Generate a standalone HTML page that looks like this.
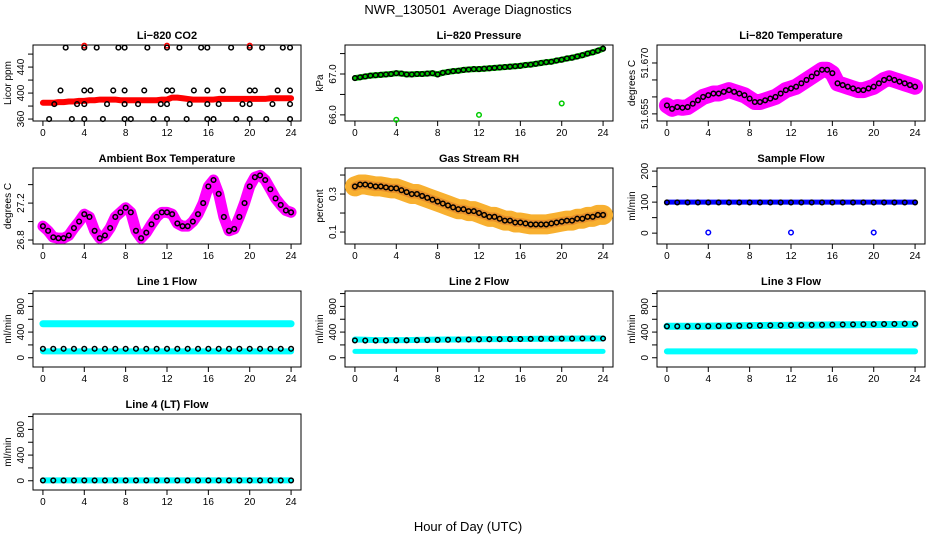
<!DOCTYPE html>
<html><head><meta charset="utf-8"><style>
body{margin:0;background:#fff}
svg{display:block;font-family:"Liberation Sans",sans-serif}
</style></head><body>
<svg id="c" width="936" height="540" viewBox="0 0 936 540">
<text x="468" y="14" text-anchor="middle" font-size="13">NWR_130501&#160; Average Diagnostics</text>
<text x="468" y="531" text-anchor="middle" font-size="13">Hour of Day (UTC)</text>
</svg>
<script>
const hours=[0,0.5,1,1.5,2,2.5,3,3.5,4,4.5,5,5.5,6,6.5,7,7.5,8,8.5,9,9.5,10,10.5,11,11.5,12,12.5,13,13.5,14,14.5,15,15.5,16,16.5,17,17.5,18,18.5,19,19.5,20,20.5,21,21.5,22,22.5,23,23.5,24];
const hourly=[0,1,2,3,4,5,6,7,8,9,10,11,12,13,14,15,16,17,18,19,20,21,22,23,24];
const xTicks=[0,4,8,12,16,20,24];
const co2Line=[385,385,385,386,386,387,387,388,388,389,389,390,390,390,390,389,389,389,389,389,389,389,389,390,390,393,393,392,391,390,390,390,390,390,391,391,391,391,391,391,391,391,391,391,392,392,392,392,392];
const co2OutT=[2.2,4,5.2,7.3,7.9,10.1,12,13.2,15.3,15.9,18.2,20,21.2,23.2,23.9,1.7,4,4.6,6.8,7.9,9.8,12,12.5,14.6,15.9,17.4,20,20.5,22.7,23.9,1.1,3.3,4,6.2,7.9,9.2,11.4,12,14.2,15.9,17,19.3,20,22.2,23.9,0.6,2.8,4,5.8,7.9,8.5,10.7,12,13.9,15.9,16.5,18.7,20,21.6,23.9];
const co2OutV=[470,470,470,470,470,470,470,470,470,470,470,470,470,470,470,404,404,404,404,404,404,404,404,404,404,404,404,404,404,404,383,383,383,383,383,383,383,383,383,383,383,383,383,383,383,360,360,360,360,360,360,360,360,360,360,360,360,360,360,360];
const co2RedT=[4,12,20];
const co2RedV=[473,473,473];
const pressure=[66.9,66.92,66.94,66.96,66.97,66.98,66.99,67.0,67.02,67.01,66.99,66.99,67.0,67.0,67.01,67.02,66.99,67.03,67.05,67.07,67.08,67.1,67.11,67.12,67.12,67.13,67.14,67.15,67.16,67.17,67.18,67.19,67.2,67.22,67.23,67.25,67.27,67.29,67.3,67.33,67.35,67.38,67.4,67.43,67.46,67.5,67.53,67.57,67.62];
const presOutT=[4,12,20];
const presOutV=[65.88,66.0,66.28];
const liTemp=[51.6575,51.6565,51.657,51.6568,51.657,51.658,51.659,51.660,51.6605,51.661,51.661,51.6615,51.662,51.6615,51.661,51.6605,51.6595,51.6585,51.6585,51.659,51.6595,51.660,51.661,51.662,51.6625,51.663,51.664,51.665,51.666,51.667,51.668,51.668,51.667,51.664,51.6635,51.663,51.6625,51.662,51.662,51.6625,51.663,51.664,51.665,51.6655,51.665,51.6645,51.664,51.6635,51.663];
const ambient=[26.95,26.9,26.83,26.82,26.82,26.85,26.93,27.0,27.08,27.05,26.9,26.82,26.85,26.93,27.05,27.1,27.15,27.1,26.9,26.82,26.88,26.97,27.05,27.1,27.1,27.08,26.98,26.95,26.95,27.0,27.08,27.2,27.38,27.45,27.3,27.05,26.9,26.92,27.05,27.2,27.38,27.48,27.5,27.45,27.35,27.25,27.18,27.12,27.1];
const rh=[0.34,0.35,0.35,0.345,0.34,0.34,0.335,0.33,0.33,0.32,0.31,0.3,0.3,0.29,0.28,0.27,0.26,0.25,0.24,0.23,0.22,0.22,0.21,0.21,0.2,0.19,0.18,0.18,0.17,0.16,0.16,0.15,0.15,0.145,0.14,0.14,0.14,0.14,0.145,0.15,0.155,0.16,0.16,0.17,0.17,0.18,0.18,0.19,0.19];
const sampleBlue=[100,100,100,100,100,100,100,100,100,100,100,100,100,100,100,100,100,100,100,100,100,100,100,100,100];
const sampleBlack=[99,99,99,99,99,99,99,99,99,99,99,99,99,99,99,99,99,99,99,99,99,99,99,99,99];
const sampleOutT=[4,12,20];
const sampleOutV=[2,2,2];
const line1Hi=[530,530,530,530,530,530,530,530,530,530,530,530,530,530,530,530,530,530,530,530,530,530,530,530,530];
const line1Lo=[100,100,100,100,100,100,100,100,100,100,100,100,100,100,100,100,100,100,100,100,100,100,100,100,100];
const line1Black=[140,140,140,140,140,140,140,140,140,140,140,140,140,140,140,140,140,140,140,140,140,140,140,140,140];
const line2Hi=[285,280,275,275,275,275,278,280,282,284,285,287,288,290,290,292,293,295,296,297,298,299,300,300,300];
const line2Lo=[100,100,100,100,100,100,100,100,100,100,100,100,100,100,100,100,100,100,100,100,100,100,100,100,100];
const line2Black=[270,268,268,268,270,272,274,276,278,280,282,284,286,288,290,290,292,294,295,296,298,299,300,300,300];
const line3Hi=[490,490,490,490,492,494,496,498,500,502,504,505,506,508,509,510,512,514,515,516,517,518,519,520,520];
const line3Lo=[100,100,100,100,100,100,100,100,100,100,100,100,100,100,100,100,100,100,100,100,100,100,100,100,100];
const line3Black=[490,490,490,490,492,494,496,498,500,502,504,506,508,510,512,514,516,518,520,522,524,526,528,530,530];
const line4Cyan=[5,5,5,5,5,5,5,5,5,5,5,5,5,5,5,5,5,5,5,5,5,5,5,5,5];
const line4Black=[5,5,5,5,5,5,5,5,5,5,5,5,5,5,5,5,5,5,5,5,5,5,5,5,5];

const NS='http://www.w3.org/2000/svg';
const svg=document.getElementById('c');
function mk(tag,attrs,parent){const e=document.createElementNS(NS,tag);for(const k in attrs)e.setAttribute(k,attrs[k]);(parent||svg).appendChild(e);return e;}
const colL=[33,345,657], rowT=[45,168,291,414], W=268, H=76;

function panel(name,col,row,ymin,ymax,yTicks,yLabels,ytitle,title){
  const g=mk('g',{});
  
  
  const L=colL[col],T=rowT[row];
  const sx=v=>L+(v+0.96)/25.92*W;
  const sy=v=>T+H-(v-ymin)/(ymax-ymin)*H;
  const t=mk('text',{x:L+W/2,y:T-6,'text-anchor':'middle','font-size':11,'font-weight':'bold'},g);
  t.textContent=title;
  
  
  const box=mk('rect',{x:L,y:T,width:W,height:H,fill:'none',stroke:'#000','stroke-width':1},g);
  
  
  xTicks.forEach(v=>{
    mk('line',{x1:sx(v),x2:sx(v),y1:T+H,y2:T+H+5,stroke:'#000'},g);
    const tx=mk('text',{x:sx(v),y:T+H+15,'text-anchor':'middle','font-size':10},g);
    tx.textContent=v;
    
    
  });
  yTicks.forEach(v=>{mk('line',{x1:L-5,x2:L,y1:sy(v),y2:sy(v),stroke:'#000'},g);});
  yLabels.forEach(v=>{
    const tx=mk('text',{x:0,y:0,'text-anchor':'middle','font-size':10,transform:`translate(${L-9},${sy(v)}) rotate(-90)`},g);
    tx.textContent=v;
    
    
  });
  const yt=mk('text',{x:0,y:0,'text-anchor':'middle','font-size':10,transform:`translate(${L-22},${T+H/2}) rotate(-90)`},g);
  yt.textContent=ytitle;
  
  
  const cg=mk('g',{},g);
  return {sx,sy,g:cg};
}
function band(p,xs,ys,color,w,nm){
  const pts=xs.map((x,i)=>p.sx(x)+','+p.sy(ys[i])).join(' ');
  const e=mk('polyline',{points:pts,fill:'none',stroke:color,'stroke-width':w,'stroke-linejoin':'round','stroke-linecap':'round'},p.g);
  
  
}
function pts(p,xs,ys,color,nm,r){
  xs.forEach((x,i)=>{
    const e=mk('circle',{cx:p.sx(x),cy:p.sy(ys[i]),r:r||2.3,fill:'none',stroke:color,'stroke-width':1.5},p.g);
    
    
  });
}

let p;
p=panel('co2',0,0,357,474,[360,380,400,420,440,460],[360,400,440],'Licor ppm','Li\u2212820 CO2');
band(p,hours,co2Line,'#f00',6,'co2-line');
pts(p,co2RedT,co2RedV,'#f00','co2-red-point');
pts(p,co2OutT,co2OutV,'#000','co2-point');

p=panel('pressure',1,0,65.85,67.71,[66.0,66.5,67.0,67.5],['66.0','67.0'],'kPa','Li\u2212820 Pressure');
band(p,hours,pressure,'#0c0',6,'pressure-line');
pts(p,hours,pressure,'#000','pressure-point');
pts(p,presOutT,presOutV,'#0c0','pressure-outlier');

p=panel('li-temp',2,0,51.6529,51.6753,[51.655,51.66,51.665,51.67],['51.655','51.670'],'degrees C','Li\u2212820 Temperature');
band(p,hours,liTemp,'#f0f',16,'li-temp-band');
pts(p,hours,liTemp,'#000','li-temp-point');

p=panel('ambient',0,1,26.757,27.58,[26.8,27.0,27.2,27.4],['26.8','27.2'],'degrees C','Ambient Box Temperature');
band(p,hours,ambient,'#f0f',11,'ambient-band');
pts(p,hours,ambient,'#000','ambient-point');

p=panel('rh',1,1,0.037,0.437,[0.1,0.2,0.3,0.4],['0.1','0.3'],'percent','Gas Stream RH');
band(p,hours,rh,'#f8b030',20,'rh-band');
band(p,hours,rh,'#e8902a',9,'rh-band-core');
pts(p,hours,rh,'#000','rh-point');

p=panel('sample-flow',2,1,-35,210,[0,50,100,150,200],[0,100,200],'ml/min','Sample Flow');
band(p,hourly,sampleBlue,'#00f',5,'sample-flow-line');
pts(p,hourly,sampleBlack,'#000','sample-flow-point');
pts(p,sampleOutT,sampleOutV,'#00f','sample-flow-outlier');

const fT=[0,200,400,600,800,1000], fL=[0,400,800];
p=panel('line1-flow',0,2,-144,1040,fT,fL,'ml/min','Line 1 Flow');
band(p,hourly,line1Hi,'#0ff',7,'line1-high-band');
band(p,hourly,line1Lo,'#0ff',6,'line1-low-band');
pts(p,hourly,line1Black,'#000','line1-point');

p=panel('line2-flow',1,2,-144,1040,fT,fL,'ml/min','Line 2 Flow');
band(p,hourly,line2Hi,'#0ff',6,'line2-high-band');
band(p,hourly,line2Lo,'#0ff',5,'line2-low-band');
pts(p,hourly,line2Black,'#000','line2-point');

p=panel('line3-flow',2,2,-144,1040,fT,fL,'ml/min','Line 3 Flow');
band(p,hourly,line3Hi,'#0ff',7,'line3-high-band');
band(p,hourly,line3Lo,'#0ff',6,'line3-low-band');
pts(p,hourly,line3Black,'#000','line3-point');

p=panel('line4-flow',0,3,-144,1040,fT,fL,'ml/min','Line 4 (LT) Flow');
band(p,hourly,line4Cyan,'#0ff',6,'line4-band');
pts(p,hourly,line4Black,'#000','line4-point');
</script>
</body></html>
